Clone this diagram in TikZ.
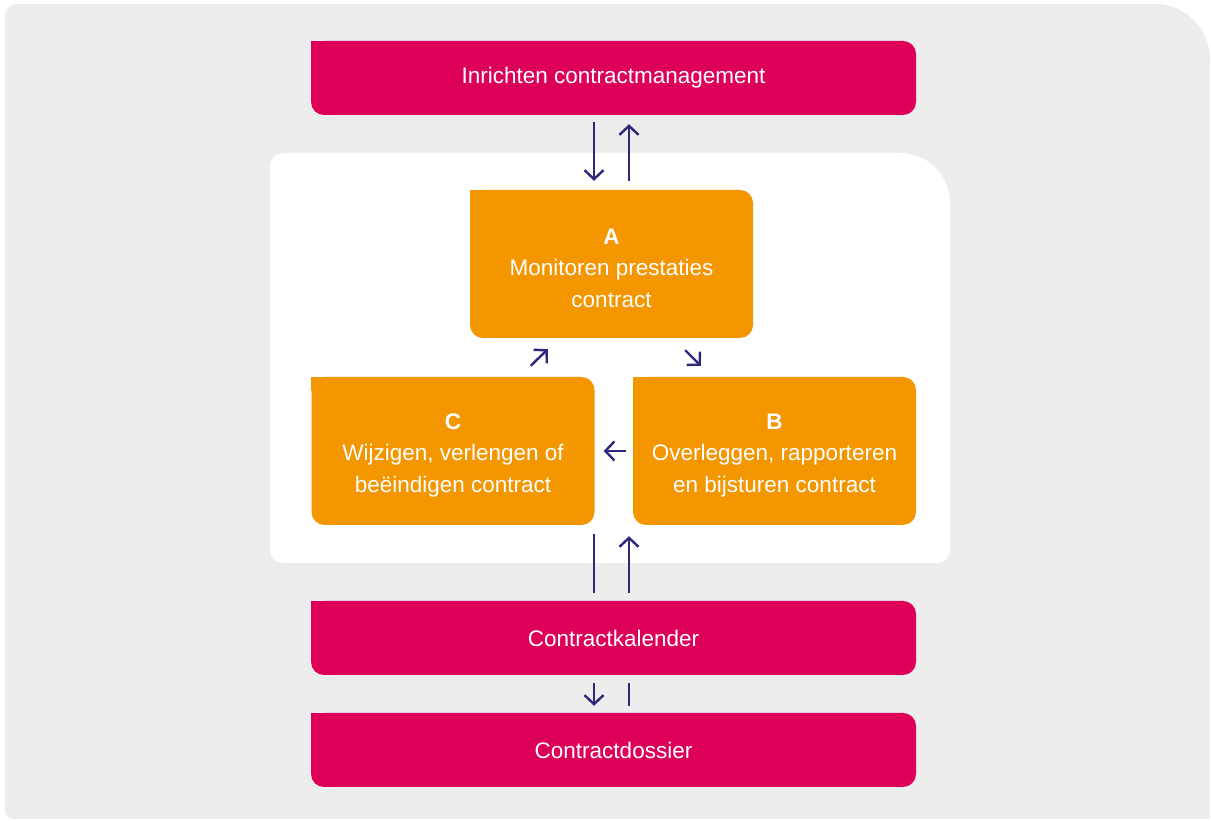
\documentclass[tikz,border=0pt]{standalone}
\usepackage{fontspec}
\setmainfont{Liberation Sans}
\usepackage{xcolor}
\usepackage{tikz}
\usetikzlibrary{arrows.meta, positioning, calc}

\definecolor{grijs}{RGB}{237,237,237}
\definecolor{roze}{RGB}{220,0,88}
\definecolor{oranje}{RGB}{243,150,0}
\definecolor{paars}{RGB}{46,40,122}

% kopletter van een stap
\newcommand{\kop}[1]{\rule{0pt}{24pt}\textbf{#1}}

\begin{document}
\begin{tikzpicture}[x=1pt,y=1pt,
    balk/.style={fill=roze, text=white, minimum width=605pt, minimum height=74pt,
      inner sep=0pt, rounded corners=13pt, font=\fontsize{22.5}{31.5}\selectfont},
    stap/.style={fill=oranje, text=white, align=center, minimum width=283pt,
      minimum height=148pt, inner sep=0pt, rounded corners=13pt,
      font=\fontsize{22.5}{31.5}\selectfont},
    pijl/.style={draw=paars, line width=2.4pt, -{Straight Barb[length=9pt,width=19pt]}},
    lijn/.style={draw=paars, line width=2.4pt}]
      \useasboundingbox (0,0) rectangle (1211,821);

      % achtergrond
      \fill[grijs] (5,10) -- (5,805) arc[start angle=180,end angle=90,radius=12]
        -- (1155,817) arc[start angle=90,end angle=0,radius=55]
        -- (1210,2) -- (13,2) arc[start angle=270,end angle=180,radius=8] -- cycle;
      \fill[white] (270,271) -- (270,655) arc[start angle=180,end angle=90,radius=13]
        -- (900,668) arc[start angle=90,end angle=0,radius=50]
        -- (950,271) arc[start angle=0,end angle=-90,radius=13]
        -- (283,258) arc[start angle=270,end angle=180,radius=13] -- cycle;

      % blokken
      \node[balk] (top) at (613.5,743) {Inrichten contractmanagement};
      \node[stap] (a) at (611.5,557) {\kop{A}\\Monitoren prestaties\\contract};
      \node[stap] (c) at (453,370) {\kop{C}\\Wijzigen, verlengen of\\beëindigen contract};
      \node[stap] (b) at (774.5,370) {\kop{B}\\Overleggen, rapporteren\\en bijsturen contract};
      \node[balk] (kal) at (613.5,183) {Contractkalender};
      \node[balk] (dos) at (613.5,71) {Contractdossier};

      % hoek linksboven recht
      \foreach \n/\k in {top/roze,kal/roze,dos/roze,a/oranje,b/oranje,c/oranje}
      \fill[\k] (\n.north west) rectangle ++(14,-14);

      % pijlen
      \coordinate (links) at (594,0);
      \coordinate (rechts) at (629,0);

      \draw[pijl,shorten <=7pt,shorten >=9pt] (links |- top.south) -- (links |- a.north);
      \draw[pijl,shorten <=9pt,shorten >=9pt] (rechts |- a.north) -- (rechts |- top.south);

      \draw[pijl] ([shift={(-64,11)}]c.north east) -- ([shift={(78,-11)}]a.south west);
      \draw[pijl] ([shift={(-68,-12)}]a.south east) -- ([shift={(68,11)}]b.north west);
      \draw[pijl,shorten <=7pt,shorten >=9pt] (b.west) -- (c.east);

      \draw[lijn,shorten <=9pt,shorten >=8pt] (links |- c.south) -- (links |- kal.north);
      \draw[pijl,shorten <=8pt,shorten >=11pt] (rechts |- kal.north) -- (rechts |- c.south);

      \draw[pijl,shorten <=8pt,shorten >=7pt] (links |- kal.south) -- (links |- dos.north);
      \draw[lijn,shorten <=8pt,shorten >=7pt] (rechts |- kal.south) -- (rechts |- dos.north);
\end{tikzpicture}
\end{document}
